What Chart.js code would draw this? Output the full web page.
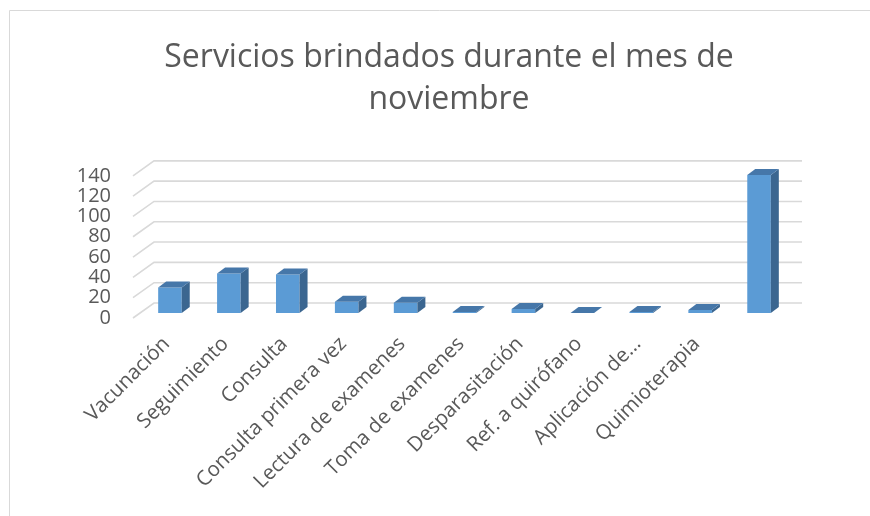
<!DOCTYPE html>
<html>
<head>
<meta charset="utf-8">
<script src="https://cdn.jsdelivr.net/npm/chart.js@4"></script>
<style>
  html, body { margin: 0; padding: 0; background: #fff; overflow: hidden; }
  canvas { display: block; }
</style>
</head>
<body>
<canvas id="myChart" width="870" height="516"></canvas>
<script>
const titleLines = ['Servicios brindados durante el mes de', 'noviembre'];
const categories = [
    'Vacunación', 'Seguimiento', 'Consulta', 'Consulta primera vez',
    'Lectura de examenes', 'Toma de examenes', 'Desparasitación',
    'Ref. a quirófano', 'Aplicación de…', 'Quimioterapia', ''
];
const services = [25, 39, 38, 11, 10, 1, 4, 0, 1, 3, 136];
const yMin = 0;
const yMax = 140;
const yStep = 20;

// fake 3d: back wall offset, bar offset inside the box, bar depth
const WALL = { dx: 21, dy: -15 };
const SHIFT = { dx: 7.5, dy: -5 };
const DEPTH = { dx: 8, dy: -6 };

const poly = (ctx, pts, color) => {
    ctx.fillStyle = color;
    ctx.beginPath();
    ctx.moveTo(pts[0][0], pts[0][1]);
    pts.slice(1).forEach(p => ctx.lineTo(p[0], p[1]));
    ctx.closePath();
    ctx.fill();
};

const pseudo3d = {
    id: 'pseudo3d',
    beforeDraw(chart) {
        const ctx = chart.ctx;
        ctx.save();
        ctx.strokeStyle = '#d9d9d9';
        ctx.lineWidth = 1;
        ctx.beginPath();
        ctx.moveTo(9.5, 516);
        ctx.lineTo(9.5, 10.5);
        ctx.lineTo(870, 10.5);
        ctx.stroke();
        ctx.restore();
    },
    beforeDatasetsDraw(chart) {
        const { ctx, chartArea: a, scales: { y } } = chart;
        ctx.save();
        ctx.strokeStyle = '#d9d9d9';
        ctx.lineWidth = 1.6;
        y.ticks.forEach(t => {
            const py = y.getPixelForValue(t.value);
            ctx.beginPath();
            ctx.moveTo(a.left, py);
            ctx.lineTo(a.left + WALL.dx, py + WALL.dy);
            ctx.lineTo(a.right + WALL.dx, py + WALL.dy);
            ctx.stroke();
        });
        ctx.restore();
        ctx.save();
        ctx.translate(SHIFT.dx, SHIFT.dy);
    },
    afterDatasetsDraw(chart) {
        const ctx = chart.ctx;
        chart.getDatasetMeta(0).data.forEach(bar => {
            const { x, y, base, width } = bar.getProps(['x', 'y', 'base', 'width'], true);
            const l = x - width / 2, r = x + width / 2;
            poly(ctx, [[r, y], [r + DEPTH.dx, y + DEPTH.dy], [r + DEPTH.dx, base + DEPTH.dy], [r, base]], '#3b6690');
            poly(ctx, [[l, y], [r, y], [r + DEPTH.dx, y + DEPTH.dy], [l + DEPTH.dx, y + DEPTH.dy]], '#4677a9');
        });
        ctx.restore();
    }
};

const data = {
    labels: categories,
    datasets: [{
        label: 'Servicios',
        data: services,
        backgroundColor: '#5b9bd5',
        borderWidth: 0,
        barPercentage: 0.4,
        categoryPercentage: 1
    }]
};

const config = {
    type: 'bar',
    data,
    plugins: [pseudo3d],
    options: {
        responsive: false,
        animation: false,
        devicePixelRatio: 1,
        layout: { padding: { left: 60, right: 32, top: 0, bottom: 0 } },
        scales: {
            x: {
                grid: { display: false, drawTicks: false },
                border: { display: false },
                afterFit: (scale) => { scale.height = 198; },
                ticks: {
                    autoSkip: false,
                    minRotation: 45,
                    maxRotation: 45,
                    padding: 14,
                    labelOffset: 4,
                    color: '#595959',
                    font: { family: 'Open Sans', size: 20.5 }
                }
            },
            y: {
                min: yMin,
                max: yMax,
                grid: { display: false, drawTicks: false },
                border: { display: false },
                afterFit: (scale) => { scale.width = 73; },
                ticks: {
                    stepSize: yStep,
                    autoSkip: false,
                    padding: 22,
                    color: '#595959',
                    font: { family: 'Open Sans', size: 20 }
                }
            },
            // empty right axis, only reserves the space right of the plot
            yRight: {
                position: 'right',
                grid: { display: false, drawTicks: false },
                border: { display: false },
                ticks: { display: false },
                afterFit: (scale) => { scale.width = 57; }
            }
        },
        plugins: {
            legend: { display: false },
            tooltip: { enabled: false },
            title: {
                display: true,
                text: titleLines,
                color: '#595959',
                font: { family: 'Open Sans', size: 32, weight: 'normal', lineHeight: 1.31 },
                padding: { top: 37, bottom: 55 }
            }
        }
    }
};

const myChart = new Chart(document.getElementById('myChart'), config);
</script>
</body>
</html>
